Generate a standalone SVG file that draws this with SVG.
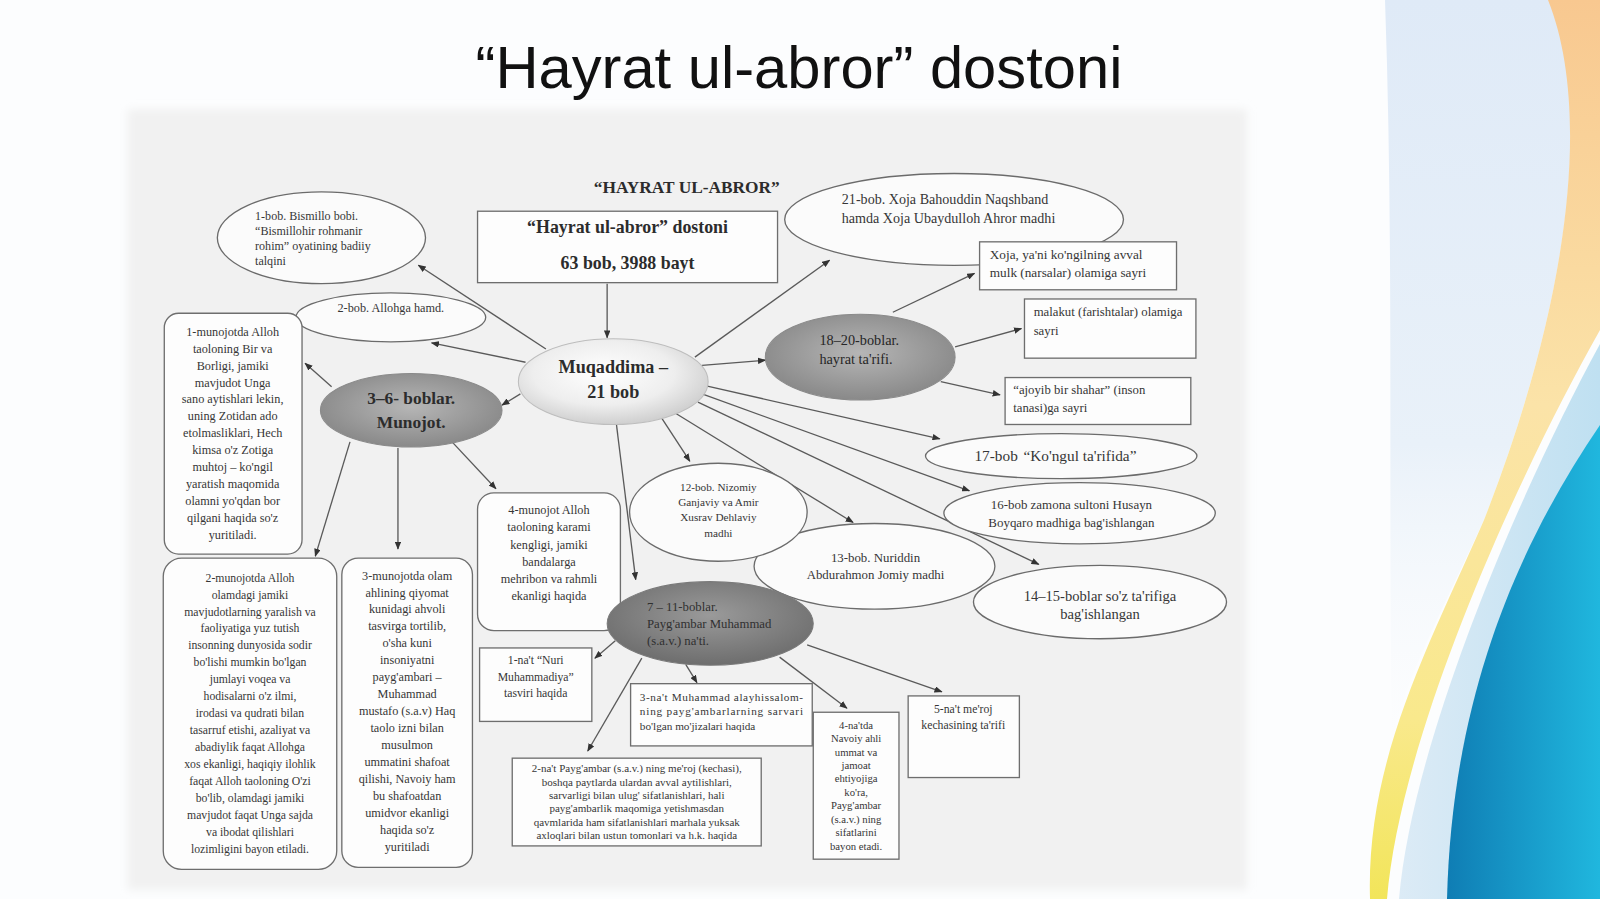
<svg xmlns="http://www.w3.org/2000/svg" width="1600" height="899" viewBox="0 0 1600 899">
<defs>
<style>
.n{fill:#fbfbfb;stroke:#6b6b6b;stroke-width:1.3}
.r{fill:#fdfdfd;stroke:#6e6e6e;stroke-width:1.3}
.c line{stroke:#5a5a5a;stroke-width:1.3;marker-end:url(#ah)}
.t{font-family:"Liberation Serif","Times New Roman",serif;fill:#363636}
.m{text-anchor:middle}
.bd{font-weight:bold;fill:#2c2c2c}
</style>
<linearGradient id="yel" x1="0" y1="0" x2="0" y2="1"><stop offset="0" stop-color="#f8c890"/><stop offset="0.45" stop-color="#fbe3a8"/><stop offset="0.8" stop-color="#f9e98c"/><stop offset="1" stop-color="#f2e55a"/></linearGradient>
<linearGradient id="blu" x1="0" y1="0" x2="1" y2="0"><stop offset="0" stop-color="#0f7db4"/><stop offset="1" stop-color="#20b7de"/></linearGradient>
<linearGradient id="lblu" x1="0" y1="0" x2="1" y2="0"><stop offset="0" stop-color="#dcebf6"/><stop offset="1" stop-color="#bfe0f1"/></linearGradient>
<linearGradient id="tint" x1="0" y1="0" x2="0" y2="1"><stop offset="0" stop-color="#dfeaf7"/><stop offset="0.6" stop-color="#e9f1f9"/><stop offset="1" stop-color="#f6f9fc" stop-opacity="0"/></linearGradient>
<radialGradient id="gL" cx="0.45" cy="0.4" r="0.62"><stop offset="0" stop-color="#ffffff"/><stop offset="0.6" stop-color="#eeeeee"/><stop offset="1" stop-color="#cdcdcd"/></radialGradient>
<radialGradient id="gD" cx="0.5" cy="0.45" r="0.6"><stop offset="0" stop-color="#b6b6b6"/><stop offset="1" stop-color="#858585"/></radialGradient>
<radialGradient id="gDD" cx="0.5" cy="0.4" r="0.62"><stop offset="0" stop-color="#9a9a9a"/><stop offset="1" stop-color="#6c6c6c"/></radialGradient>
<filter id="soft" x="-5%" y="-5%" width="110%" height="110%"><feGaussianBlur stdDeviation="4"/></filter>
<marker id="ah" viewBox="0 0 10 8" refX="9" refY="4" markerWidth="8" markerHeight="6.4" markerUnits="userSpaceOnUse" orient="auto"><path d="M0,0 L10,4 L0,8 z" fill="#333"/></marker>
</defs>

<rect x="0" y="0" width="1600" height="899" fill="#fcfdfe"/>
<g id="decor">
<path d="M1385,0 L1550,0 C1592,110 1570,300 1484,520 C1440,615 1405,680 1392,740 C1388,500 1394,250 1385,0 Z" fill="url(#tint)"/>
<path d="M1548,0 C1592,110 1570,300 1484,520 C1428,648 1366,760 1370,899 L1387,899 C1400,740 1510,490 1600,330 L1600,0 Z" fill="url(#yel)"/>
<path d="M1600,344 C1515,500 1412,745 1399,899 L1600,899 Z" fill="url(#lblu)"/>
<path d="M1600,425 C1515,550 1452,700 1447,899 L1600,899 Z" fill="url(#blu)"/>
</g>

<g transform="scale(1.0204)">
<rect x="125" y="107" width="1097" height="765" fill="#f1f1f1" filter="url(#soft)"/>
<text class="t" x="783" y="86" text-anchor="middle" font-size="58.5" style="font-family:'Liberation Sans',Arial,sans-serif;fill:#111">“Hayrat ul-abror” dostoni</text>

<g class="c" id="connectors">
<line x1="595" y1="278" x2="595" y2="331"/>
<line x1="535" y1="342" x2="410" y2="260"/>
<line x1="515" y1="355" x2="423" y2="336"/>
<line x1="510" y1="386" x2="492" y2="397"/>
<line x1="325" y1="379" x2="299" y2="356"/>
<line x1="343" y1="433" x2="309" y2="545"/>
<line x1="390" y1="439" x2="390" y2="538"/>
<line x1="443" y1="433" x2="486" y2="479"/>
<line x1="604" y1="415" x2="623" y2="568"/>
<line x1="648" y1="409" x2="676" y2="452"/>
<line x1="662" y1="405" x2="836" y2="512"/>
<line x1="684" y1="394" x2="1018" y2="553"/>
<line x1="688" y1="386" x2="950" y2="481"/>
<line x1="691" y1="378" x2="921" y2="430"/>
<line x1="688" y1="358" x2="750" y2="353"/>
<line x1="681" y1="350" x2="813" y2="255"/>
<line x1="875" y1="306" x2="955" y2="268"/>
<line x1="936" y1="340" x2="1001" y2="322"/>
<line x1="922" y1="374" x2="980" y2="387"/>
<line x1="603" y1="628" x2="583" y2="645"/>
<line x1="629" y1="645" x2="576" y2="736"/>
<line x1="672" y1="651" x2="683" y2="669"/>
<line x1="764" y1="644" x2="830" y2="694"/>
<line x1="791" y1="632" x2="923" y2="678"/>
</g>

<g id="heading"><text class="t m bd" x="673" y="189" font-size="17">“HAYRAT UL-ABROR”</text></g>

<g id="dostoni">
<rect class="r" x="468" y="207" width="294" height="70"/>
<text class="t m bd" x="615" y="228" font-size="17.5">“Hayrat ul-abror” dostoni</text>
<text class="t m bd" x="615" y="264" font-size="17.5">63 bob, 3988 bayt</text>
</g>

<g id="muqaddima">
<ellipse cx="601" cy="374" rx="93" ry="42" fill="url(#gL)" stroke="#bdbdbd" stroke-width="1"/>
<text class="t m bd" x="601" y="366" font-size="17.8">Muqaddima –</text>
<text class="t m bd" x="601" y="390" font-size="17.8">21 bob</text>
</g>

<g id="bob1">
<ellipse class="n" cx="315" cy="233" rx="102" ry="45"/>
<text class="t" x="250" y="216" font-size="11.8"><tspan x="250">1-bob. Bismillo bobi.</tspan><tspan x="250" dy="14.5">“Bismillohir rohmanir</tspan><tspan x="250" dy="14.5">rohim” oyatining badiiy</tspan><tspan x="250" dy="14.5">talqini</tspan></text>
</g>

<g id="bob2">
<ellipse class="n" cx="383" cy="311" rx="93" ry="24"/>
<text class="t m" x="383" y="306" font-size="12">2-bob. Allohga hamd.</text>
</g>

<g id="munojot">
<ellipse cx="403" cy="402" rx="89" ry="36" fill="url(#gD)" stroke="#8a8a8a" stroke-width="1"/>
<text class="t m bd" x="403" y="396" font-size="17">3–6- boblar.</text>
<text class="t m bd" x="403" y="419" font-size="17">Munojot.</text>
</g>

<g id="munojot1">
<rect class="r" x="161" y="307" width="135" height="236" rx="14"/>
<text class="t m" x="228" y="329" font-size="12"><tspan x="228">1-munojotda Alloh</tspan><tspan x="228" dy="16.6">taoloning Bir va</tspan><tspan x="228" dy="16.6">Borligi, jamiki</tspan><tspan x="228" dy="16.6">mavjudot Unga</tspan><tspan x="228" dy="16.6">sano aytishlari lekin,</tspan><tspan x="228" dy="16.6">uning Zotidan ado</tspan><tspan x="228" dy="16.6">etolmasliklari, Hech</tspan><tspan x="228" dy="16.6">kimsa o'z Zotiga</tspan><tspan x="228" dy="16.6">muhtoj – ko'ngil</tspan><tspan x="228" dy="16.6">yaratish maqomida</tspan><tspan x="228" dy="16.6">olamni yo'qdan bor</tspan><tspan x="228" dy="16.6">qilgani haqida so'z</tspan><tspan x="228" dy="16.6">yuritiladi.</tspan></text>
</g>

<g id="munojot2">
<rect class="r" x="160" y="547" width="170" height="305" rx="18"/>
<text class="t m" x="245" y="570" font-size="11.5"><tspan x="245">2-munojotda Alloh</tspan><tspan x="245" dy="16.6">olamdagi jamiki</tspan><tspan x="245" dy="16.6">mavjudotlarning yaralish va</tspan><tspan x="245" dy="16.6">faoliyatiga yuz tutish</tspan><tspan x="245" dy="16.6">insonning dunyosida sodir</tspan><tspan x="245" dy="16.6">bo'lishi mumkin bo'lgan</tspan><tspan x="245" dy="16.6">jumlayi voqea va</tspan><tspan x="245" dy="16.6">hodisalarni o'z ilmi,</tspan><tspan x="245" dy="16.6">irodasi va qudrati bilan</tspan><tspan x="245" dy="16.6">tasarruf etishi, azaliyat va</tspan><tspan x="245" dy="16.6">abadiylik faqat Allohga</tspan><tspan x="245" dy="16.6">xos ekanligi, haqiqiy ilohlik</tspan><tspan x="245" dy="16.6">faqat Alloh taoloning O'zi</tspan><tspan x="245" dy="16.6">bo'lib, olamdagi jamiki</tspan><tspan x="245" dy="16.6">mavjudot faqat Unga sajda</tspan><tspan x="245" dy="16.6">va ibodat qilishlari</tspan><tspan x="245" dy="16.6">lozimligini bayon etiladi.</tspan></text>
</g>

<g id="munojot3">
<rect class="r" x="335" y="547" width="128" height="303" rx="16"/>
<text class="t m" x="399" y="568" font-size="12"><tspan x="399">3-munojotda olam</tspan><tspan x="399" dy="16.6">ahlining qiyomat</tspan><tspan x="399" dy="16.6">kunidagi ahvoli</tspan><tspan x="399" dy="16.6">tasvirga tortilib,</tspan><tspan x="399" dy="16.6">o'sha kuni</tspan><tspan x="399" dy="16.6">insoniyatni</tspan><tspan x="399" dy="16.6">payg'ambari –</tspan><tspan x="399" dy="16.6">Muhammad</tspan><tspan x="399" dy="16.6">mustafo (s.a.v) Haq</tspan><tspan x="399" dy="16.6">taolo izni bilan</tspan><tspan x="399" dy="16.6">musulmon</tspan><tspan x="399" dy="16.6">ummatini shafoat</tspan><tspan x="399" dy="16.6">qilishi, Navoiy ham</tspan><tspan x="399" dy="16.6">bu shafoatdan</tspan><tspan x="399" dy="16.6">umidvor ekanligi</tspan><tspan x="399" dy="16.6">haqida so'z</tspan><tspan x="399" dy="16.6">yuritiladi</tspan></text>
</g>

<g id="munojot4">
<rect class="r" x="468" y="483" width="140" height="135" rx="16"/>
<text class="t m" x="538" y="504" font-size="12"><tspan x="538">4-munojot Alloh</tspan><tspan x="538" dy="16.8">taoloning karami</tspan><tspan x="538" dy="16.8">kengligi, jamiki</tspan><tspan x="538" dy="16.8">bandalarga</tspan><tspan x="538" dy="16.8">mehribon va rahmli</tspan><tspan x="538" dy="16.8">ekanligi haqida</tspan></text>
</g>

<g id="bob21">
<ellipse class="n" cx="935" cy="215" rx="166" ry="45"/>
<text class="t" x="825" y="200" font-size="13.8"><tspan x="825">21-bob. Xoja Bahouddin Naqshband</tspan><tspan x="825" dy="19">hamda Xoja Ubaydulloh Ahror madhi</tspan></text>
</g>

<g id="xoja">
<rect class="r" x="960" y="237" width="193" height="47"/>
<text class="t" x="970" y="254" font-size="13"><tspan x="970">Xoja, ya'ni ko'ngilning avval</tspan><tspan x="970" dy="17">mulk (narsalar) olamiga sayri</tspan></text>
</g>

<g id="malakut">
<rect class="r" x="1004" y="293" width="168" height="58"/>
<text class="t" x="1013" y="310" font-size="12.5"><tspan x="1013">malakut (farishtalar) olamiga</tspan><tspan x="1013" dy="18">sayri</tspan></text>
</g>

<g id="ajoyib">
<rect class="r" x="985" y="370" width="182" height="46"/>
<text class="t" x="993" y="386" font-size="12.5"><tspan x="993">“ajoyib bir shahar” (inson</tspan><tspan x="993" dy="18">tanasi)ga sayri</tspan></text>
</g>

<g id="hayrat">
<ellipse cx="843" cy="350" rx="93" ry="42" fill="url(#gD)" stroke="#8a8a8a" stroke-width="1"/>
<text class="t" x="803" y="338" font-size="14" style="fill:#262626"><tspan x="803">18–20-boblar.</tspan><tspan x="803" dy="18.5">hayrat ta'rifi.</tspan></text>
</g>

<g id="bob17">
<ellipse class="n" cx="1040" cy="447" rx="133" ry="22"/>
<text class="t" x="955" y="452" font-size="15"><tspan x="955">17-bob</tspan><tspan x="1003">“Ko'ngul ta'rifida”</tspan></text>
</g>

<g id="bob16">
<ellipse class="n" cx="1058" cy="503" rx="133" ry="30"/>
<text class="t m" x="1050" y="499" font-size="12.7"><tspan x="1050">16-bob zamona sultoni Husayn</tspan><tspan x="1050" dy="17">Boyqaro madhiga bag'ishlangan</tspan></text>
</g>

<g id="bob1415">
<ellipse class="n" cx="1078" cy="590" rx="124" ry="36"/>
<text class="t m" x="1078" y="589" font-size="14.3"><tspan x="1078">14–15-boblar so'z ta'rifiga</tspan><tspan x="1078" dy="18">bag'ishlangan</tspan></text>
</g>

<g id="bob13">
<ellipse class="n" cx="857" cy="555" rx="118" ry="42"/>
<text class="t m" x="858" y="551" font-size="12.6"><tspan x="858">13-bob. Nuriddin</tspan><tspan x="858" dy="16.5">Abdurahmon Jomiy madhi</tspan></text>
</g>

<g id="bob12">
<ellipse class="n" cx="704" cy="502" rx="87" ry="48"/>
<text class="t m" x="704" y="481" font-size="11"><tspan x="704">12-bob. Nizomiy</tspan><tspan x="704" dy="15">Ganjaviy va Amir</tspan><tspan x="704" dy="15">Xusrav Dehlaviy</tspan><tspan x="704" dy="15">madhi</tspan></text>
</g>

<g id="nat">
<ellipse cx="696" cy="611" rx="101" ry="41" fill="url(#gDD)" stroke="#7a7a7a" stroke-width="1"/>
<text class="t" x="634" y="599" font-size="12.5" style="fill:#303030"><tspan x="634">7 – 11-boblar.</tspan><tspan x="634" dy="16.5">Payg'ambar Muhammad</tspan><tspan x="634" dy="16.5">(s.a.v.) na'ti.</tspan></text>
</g>

<g id="nat1">
<rect class="r" x="470" y="635" width="110" height="72"/>
<text class="t m" x="525" y="651" font-size="11.5"><tspan x="525">1-na't “Nuri</tspan><tspan x="525" dy="16">Muhammadiya”</tspan><tspan x="525" dy="16">tasviri haqida</tspan></text>
</g>

<g id="nat3">
<rect class="r" x="618" y="670" width="178" height="61"/>
<text class="t" x="627" y="687" font-size="11"><tspan x="627" textLength="160" lengthAdjust="spacing">3-na't Muhammad alayhissalom-</tspan><tspan x="627" dy="14" textLength="160" lengthAdjust="spacing">ning payg'ambarlarning sarvari</tspan><tspan x="627" dy="14">bo'lgan mo'jizalari haqida</tspan></text>
</g>

<g id="nat2">
<rect class="r" x="502" y="743" width="244" height="86"/>
<text class="t m" x="624" y="757" font-size="10.8"><tspan x="624">2-na't Payg'ambar (s.a.v.) ning me'roj (kechasi),</tspan><tspan x="624" dy="13">boshqa paytlarda ulardan avval aytilishlari,</tspan><tspan x="624" dy="13">sarvarligi bilan ulug' sifatlanishlari, hali</tspan><tspan x="624" dy="13">payg'ambarlik maqomiga yetishmasdan</tspan><tspan x="624" dy="13">qavmlarida ham sifatlanishlari marhala yuksak</tspan><tspan x="624" dy="13">axloqlari bilan ustun tomonlari va h.k. haqida</tspan></text>
</g>

<g id="nat4">
<rect class="r" x="797" y="698" width="84" height="144"/>
<text class="t m" x="839" y="714" font-size="10.5"><tspan x="839">4-na'tda</tspan><tspan x="839" dy="13.2">Navoiy ahli</tspan><tspan x="839" dy="13.2">ummat va</tspan><tspan x="839" dy="13.2">jamoat</tspan><tspan x="839" dy="13.2">ehtiyojiga</tspan><tspan x="839" dy="13.2">ko'ra,</tspan><tspan x="839" dy="13.2">Payg'ambar</tspan><tspan x="839" dy="13.2">(s.a.v.) ning</tspan><tspan x="839" dy="13.2">sifatlarini</tspan><tspan x="839" dy="13.2">bayon etadi.</tspan></text>
</g>

<g id="nat5">
<rect class="r" x="890" y="682" width="109" height="80"/>
<text class="t m" x="944" y="699" font-size="11.5"><tspan x="944">5-na't me'roj</tspan><tspan x="944" dy="15">kechasining ta'rifi</tspan></text>
</g>
</g>
</svg>
